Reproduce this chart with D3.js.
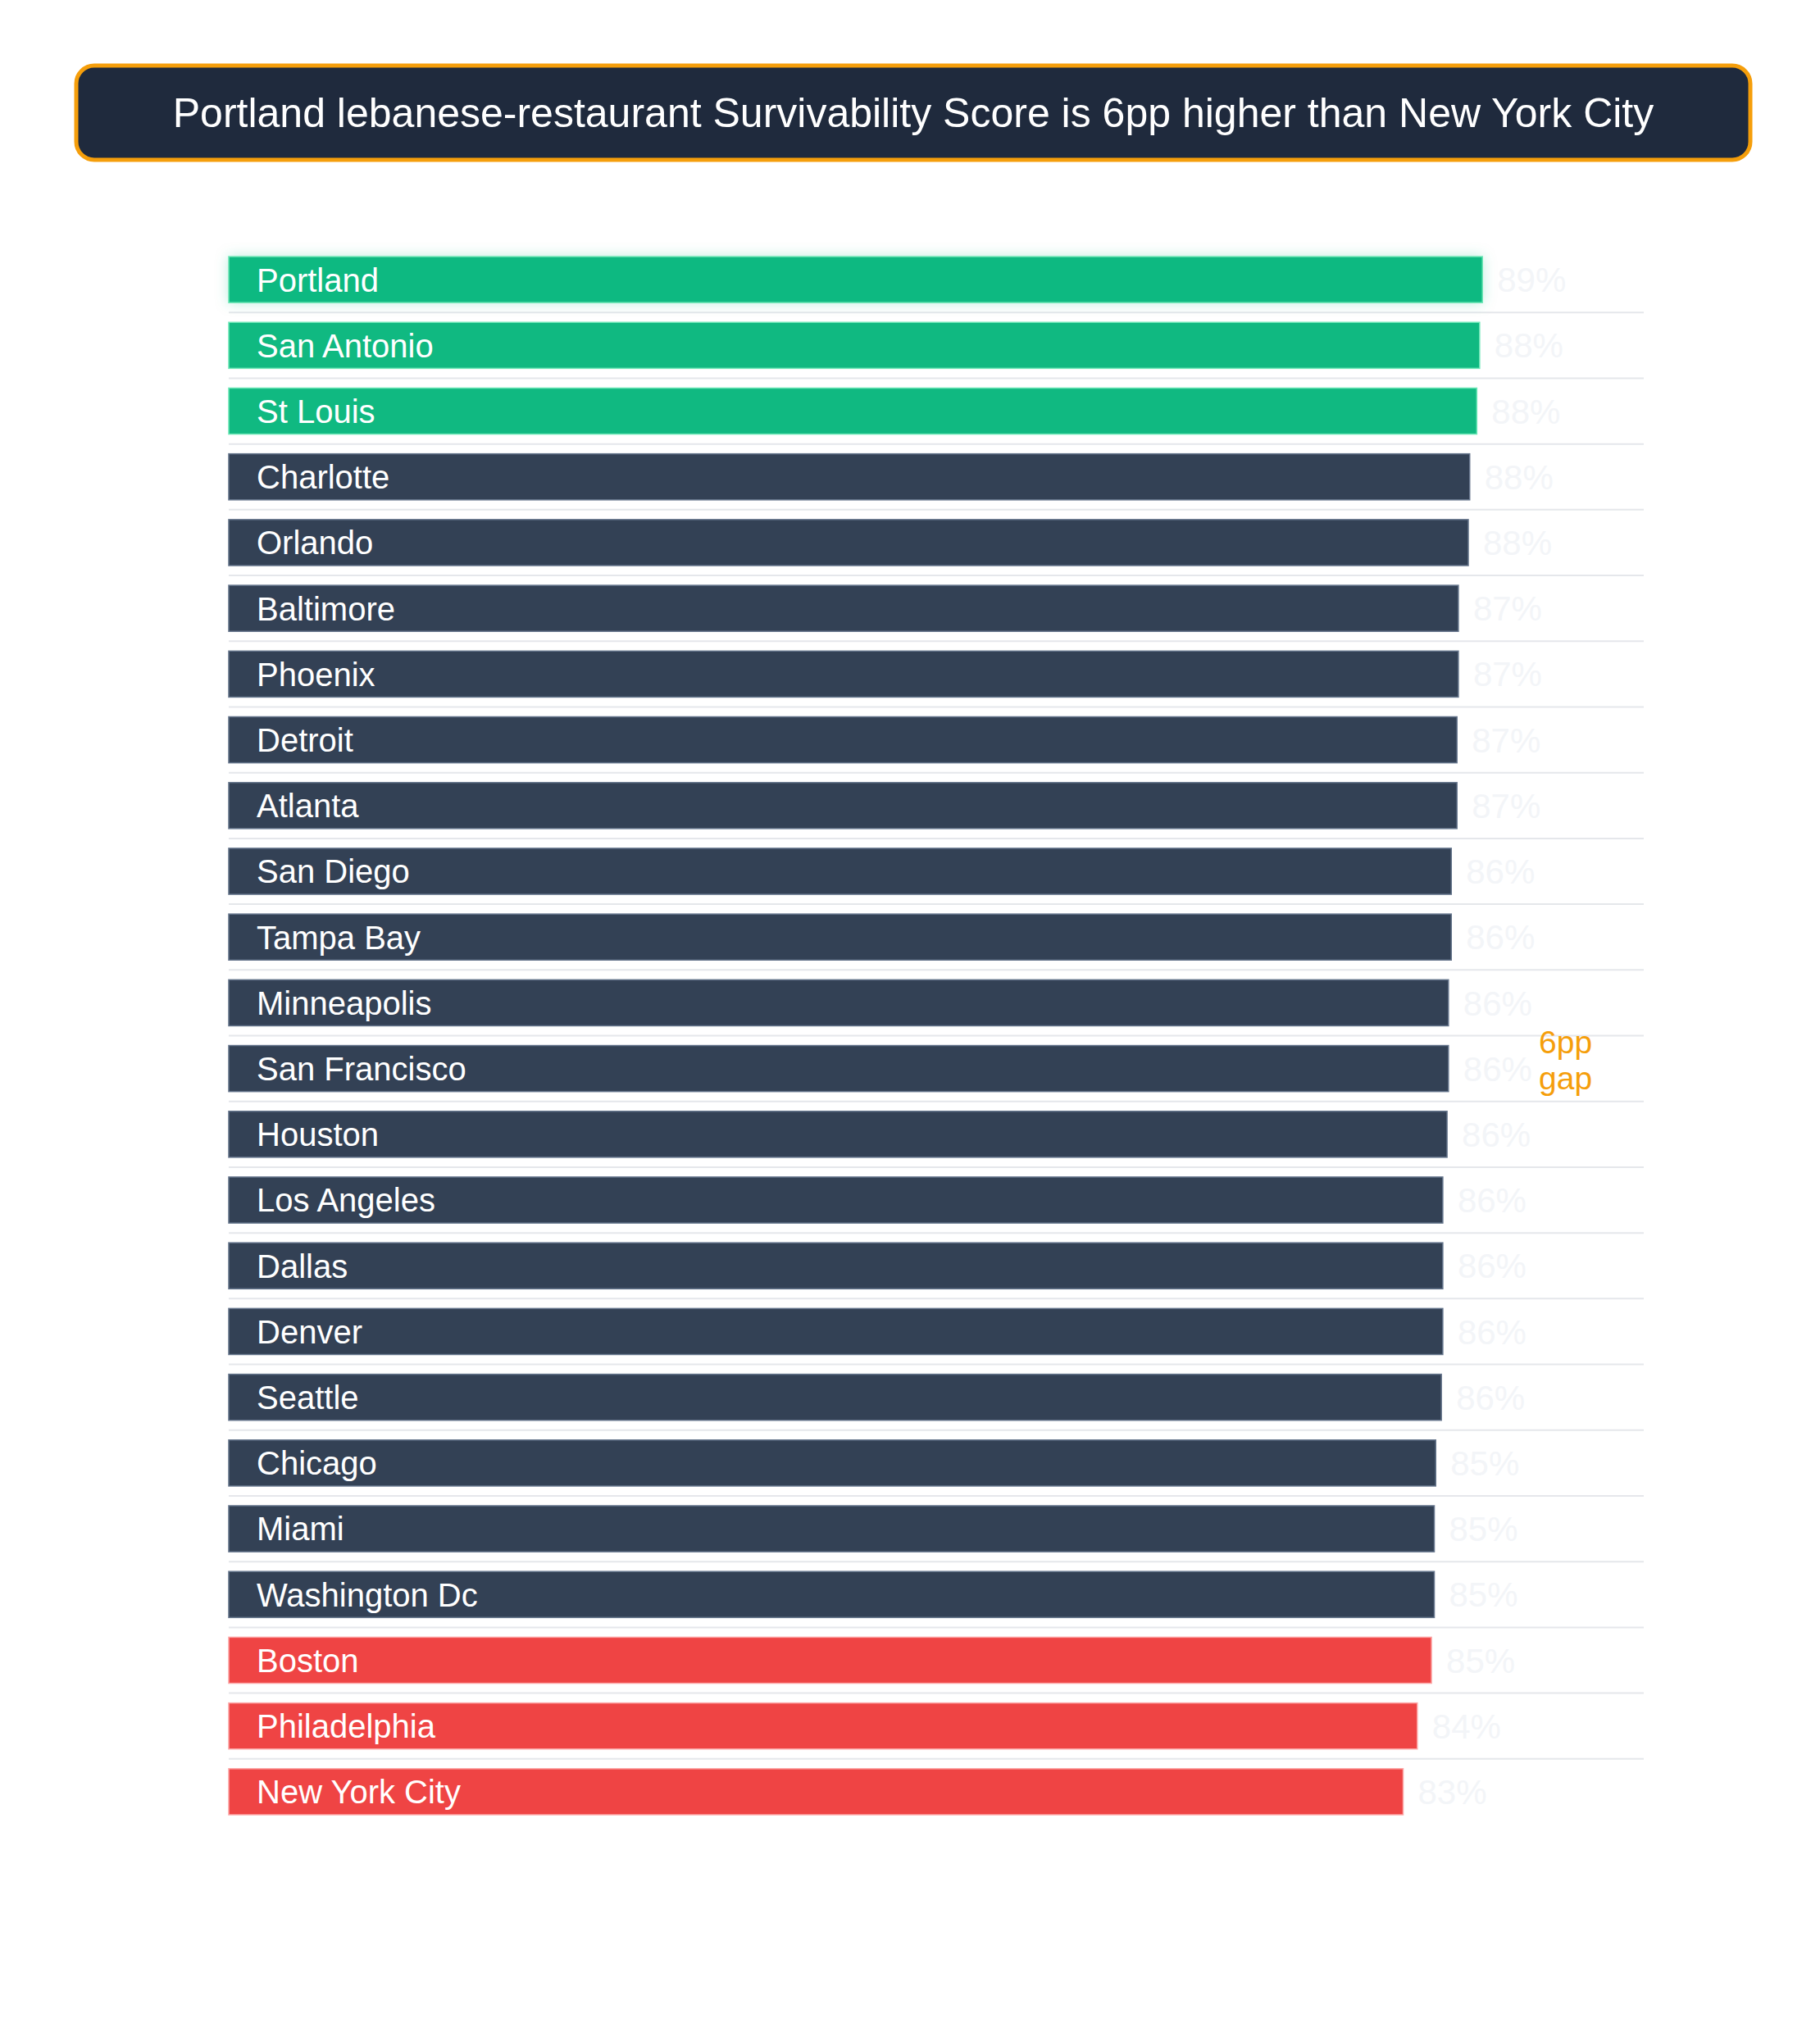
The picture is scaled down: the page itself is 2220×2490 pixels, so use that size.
<!DOCTYPE html>
<html><head><meta charset="utf-8">
<script src="https://cdn.jsdelivr.net/npm/d3@7"></script>
<style>body{margin:0;background:#fff}</style></head>
<body><svg id="c" width="2220" height="2490"></svg>
<script>
const cities = ["Portland","San Antonio","St Louis","Charlotte","Orlando","Baltimore","Phoenix","Detroit","Atlanta","San Diego","Tampa Bay","Minneapolis","San Francisco","Houston","Los Angeles","Dallas","Denver","Seattle","Chicago","Miami","Washington Dc","Boston","Philadelphia","New York City"];
const scores = [88.5,88.3,88.1,87.6,87.5,86.8,86.8,86.7,86.7,86.3,86.3,86.1,86.1,86.0,85.7,85.7,85.7,85.6,85.2,85.1,85.1,84.9,83.9,82.9];
const groups = ["top","top","top","mid","mid","mid","mid","mid","mid","mid","mid","mid","mid","mid","mid","mid","mid","mid","mid","mid","mid","bottom","bottom","bottom"];
const title = "Portland lebanese-restaurant Survivability Score is 6pp higher than New York City";
const gapLines = ["6pp","gap"];

const colors = {top:"#10b981", mid:"#334155", bottom:"#ef4444"};
const edge = {top:"#6ee7b7", mid:"#64748b", bottom:"#fca5a5"};
const font = "'Liberation Sans', Arial, Helvetica, sans-serif";
const svg = d3.select("#c");
const defs = svg.append("defs");
const f = defs.append("filter").attr("id","glow").attr("x","-5%").attr("y","-50%").attr("width","110%").attr("height","200%");
f.append("feDropShadow").attr("dx",0).attr("dy",0).attr("stdDeviation",8).attr("flood-color","#10b981").attr("flood-opacity",0.25);

// title
svg.append("rect").attr("x",93).attr("y",80).attr("width",2042).attr("height",115).attr("rx",22)
  .attr("fill","#1f2a3d").attr("stroke","#f59e0b").attr("stroke-width",5);
svg.append("text").attr("x",1114).attr("y",155).attr("text-anchor","middle").attr("fill","#fff")
  .attr("font-family",font).attr("font-size",50).text(title);

const x = d3.scaleLinear().domain([0,100]).range([279,2007]);
const y = d3.scaleBand().domain(cities).range([301,2226]).paddingInner(0.3).paddingOuter(0.15);
const data = cities.map((c,i)=>({c,v:scores[i],g:groups[i]}));
const step = y.step(), bw = y.bandwidth();

// gridlines
svg.append("g").selectAll("line").data(data.slice(0,-1)).join("line")
  .attr("x1",279).attr("x2",2005)
  .attr("y1",d=>y(d.c)+bw+(step-bw)/2).attr("y2",d=>y(d.c)+bw+(step-bw)/2)
  .attr("stroke","#e5e7eb").attr("stroke-width",2);

const row = svg.append("g").selectAll("g").data(data).join("g");
row.append("rect").attr("x",x(0)).attr("y",d=>y(d.c)).attr("width",d=>x(d.v)-x(0)).attr("height",bw)
  .attr("fill",d=>colors[d.g]).attr("stroke",d=>edge[d.g]).attr("stroke-width",1.5)
  .attr("filter",(d,i)=>i===0?"url(#glow)":null);
row.append("text").attr("x",313).attr("y",d=>y(d.c)+bw/2).attr("dy","0.36em")
  .attr("fill","#fff").attr("font-family",font).attr("font-size",40).text(d=>d.c);
row.append("text").attr("x",d=>x(d.v)+18).attr("y",d=>y(d.c)+bw/2).attr("dy","0.36em")
  .attr("fill","#f3f5f8").attr("font-family",font).attr("font-size",42).text(d=>Math.round(d.v)+"%");

// gap annotation
svg.append("g").selectAll("text").data(gapLines).join("text")
  .attr("x",1877).attr("y",(d,i)=>1285+i*44).attr("fill","#f59e0b")
  .attr("font-family",font).attr("font-size",39).text(d=>d);
</script></body></html>
